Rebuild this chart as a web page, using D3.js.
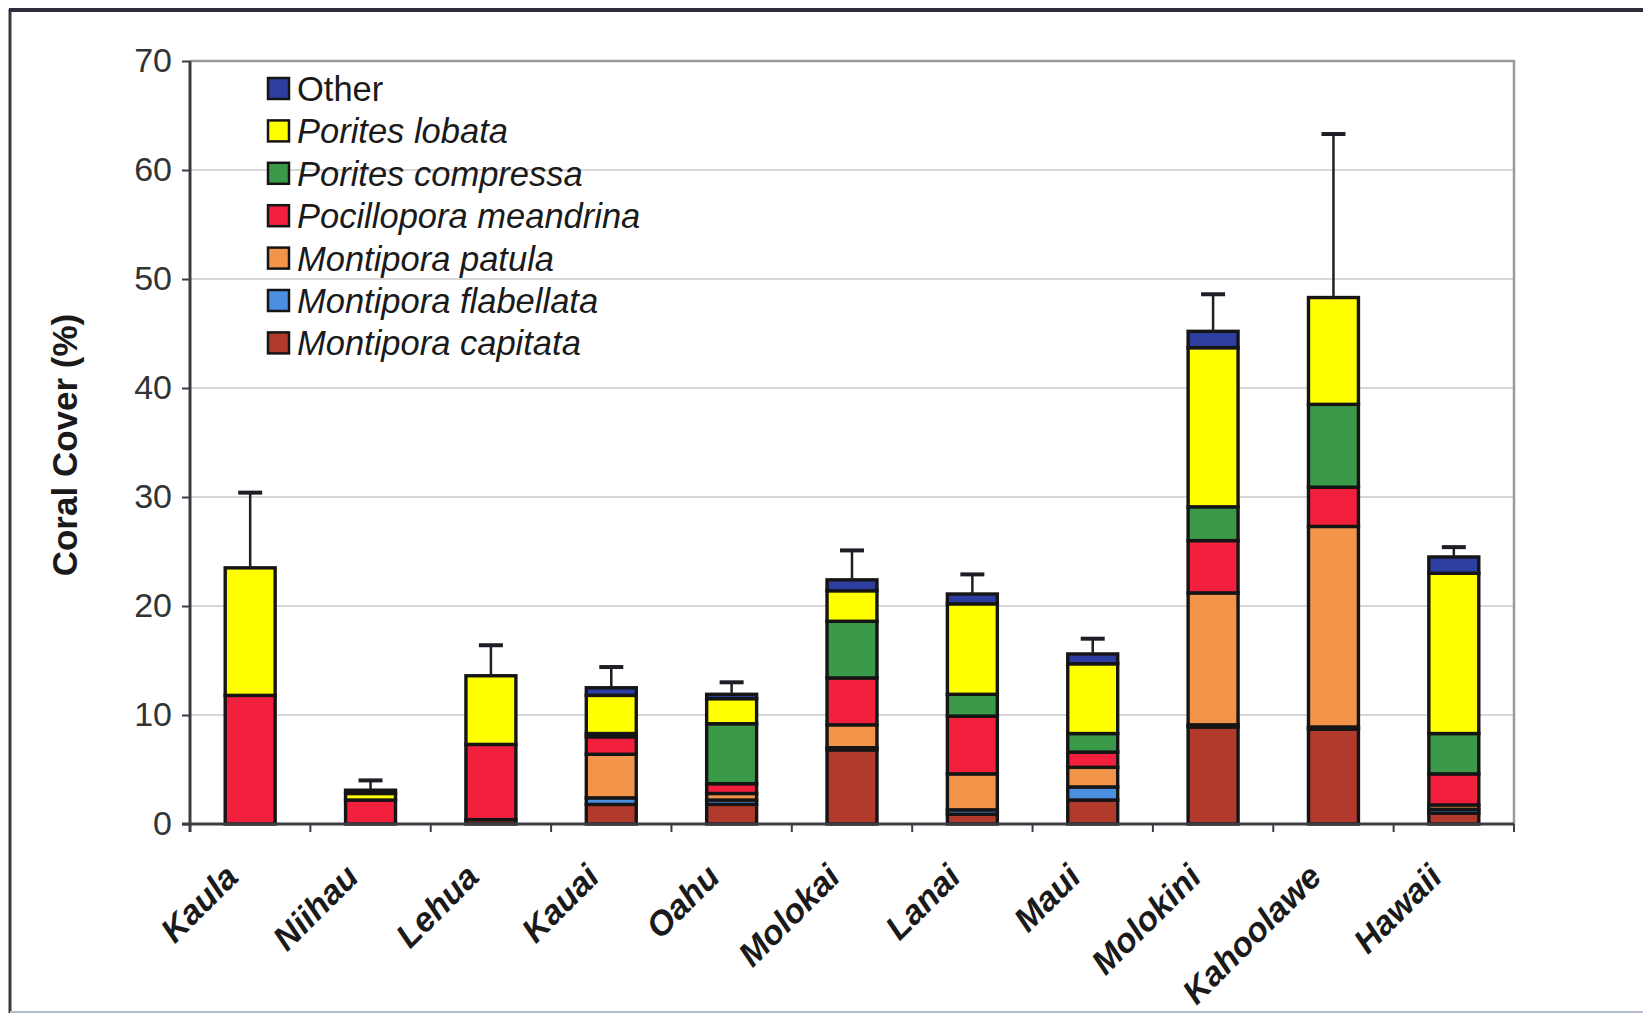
<!DOCTYPE html>
<html><head><meta charset="utf-8">
<script src="https://cdn.jsdelivr.net/npm/d3@7"></script>
<style>body{margin:0;background:#fff} svg{display:block}</style>
</head><body>
<svg id="chart" width="1643" height="1015"></svg>
<script>
// Mean coral cover (%) by species at each island, stacked bottom to top
const islands = ["Kaula","Niihau","Lehua","Kauai","Oahu","Molokai","Lanai","Maui","Molokini","Kahoolawe","Hawaii"];
const montiporaCapitata    = [0,    0,   0.4, 1.8, 1.8, 6.8, 0.9, 2.2, 8.9,  8.7,  1.0];
const montiporaFlabellata  = [0,    0,   0,   0.6, 0.4, 0.2, 0.4, 1.2, 0.2,  0.2,  0.35];
const montiporaPatula      = [0,    0,   0,   4.0, 0.6, 2.1, 3.3, 1.8, 12.1, 18.4, 0.4];
const pocilloporaMeandrina = [11.8, 2.2, 6.9, 1.6, 0.9, 4.3, 5.3, 1.4, 4.8,  3.6,  2.85];
const poritesCompressa     = [0,    0,   0,   0.3, 5.5, 5.2, 2.0, 1.7, 3.1,  7.6,  3.7];
const poritesLobata        = [11.7, 0.6, 6.3, 3.5, 2.3, 2.8, 8.3, 6.4, 14.6, 9.8,  14.7];
const otherCoral           = [0,    0.3, 0,   0.7, 0.4, 1.0, 0.9, 0.9, 1.5,  0,    1.5];
// upper error (SD of total cover)
const totalError           = [6.9,  0.9, 2.8, 1.9, 1.1, 2.7, 1.8, 1.4, 3.4,  15.0, 0.9];
const yTicks = [0, 10, 20, 30, 40, 50, 60, 70];

const series = [
  {name: "Montipora capitata",   values: montiporaCapitata,    color: "#b23a2c", italic: true},
  {name: "Montipora flabellata", values: montiporaFlabellata,  color: "#4a8fe0", italic: true},
  {name: "Montipora patula",     values: montiporaPatula,      color: "#f2954a", italic: true},
  {name: "Pocillopora meandrina",values: pocilloporaMeandrina, color: "#f2203c", italic: true},
  {name: "Porites compressa",    values: poritesCompressa,     color: "#3a9a4a", italic: true},
  {name: "Porites lobata",       values: poritesLobata,        color: "#ffff00", italic: true},
  {name: "Other",                values: otherCoral,           color: "#2e3ea0", italic: false}
];

const svg = d3.select("#chart");
const FONT = "'Liberation Sans', Arial, sans-serif";
const m = {left: 190, right: 1514, top: 61, bottom: 824};

// outer frame
svg.append("line").attr("x1", 10).attr("x2", 10).attr("y1", 9).attr("y2", 1013)
  .attr("stroke", "#3a3a3a").attr("stroke-width", 3);
svg.append("line").attr("x1", 9).attr("x2", 1643).attr("y1", 10).attr("y2", 10)
  .attr("stroke", "#2c2c3a").attr("stroke-width", 4);
svg.append("line").attr("x1", 10).attr("x2", 1643).attr("y1", 1012).attr("y2", 1012)
  .attr("stroke", "#b4bccb").attr("stroke-width", 2);

const x = d3.scaleBand().domain(islands).range([m.left, m.right]).paddingInner(0).paddingOuter(0);
const y = d3.scaleLinear().domain([0, 70]).range([m.bottom, m.top]);
const barW = x.bandwidth() * 0.415;

// gridlines
svg.append("g").selectAll("line").data(yTicks.filter(t => t > 0 && t < 70)).join("line")
  .attr("x1", m.left).attr("x2", m.right)
  .attr("y1", d => y(d)).attr("y2", d => y(d))
  .attr("stroke", "#cacaca").attr("stroke-width", 1.5);

// plot area border (top and right)
svg.append("path")
  .attr("d", `M${m.left},${m.top}H${m.right}V${m.bottom}`)
  .attr("fill", "none").attr("stroke", "#9a9a9a").attr("stroke-width", 2.5);

// stacked bars
const stack = d3.stack().keys(d3.range(series.length)).value((d, k) => series[k].values[d]);
const layers = stack(d3.range(islands.length));
layers.forEach((layer, k) => {
  svg.append("g").selectAll("rect")
    .data(layer.map((seg, i) => ({i, y0: seg[0], y1: seg[1]})).filter(s => s.y1 - s.y0 > 0))
    .join("rect")
    .attr("x", s => x(islands[s.i]) + (x.bandwidth() - barW) / 2)
    .attr("width", barW)
    .attr("y", s => y(s.y1))
    .attr("height", s => y(s.y0) - y(s.y1))
    .attr("fill", series[k].color)
    .attr("stroke", "#151515").attr("stroke-width", 3.4);
});

// error bars
const totals = islands.map((_, i) => d3.sum(series, s => s.values[i]));
const eb = svg.append("g").attr("stroke", "#1e1e26");
islands.forEach((isl, i) => {
  const cx = x(isl) + x.bandwidth() / 2;
  eb.append("line").attr("x1", cx).attr("x2", cx)
    .attr("y1", y(totals[i])).attr("y2", y(totals[i] + totalError[i])).attr("stroke-width", 2.5);
  eb.append("line").attr("x1", cx - 12).attr("x2", cx + 12)
    .attr("y1", y(totals[i] + totalError[i])).attr("y2", y(totals[i] + totalError[i])).attr("stroke-width", 4);
});

// y axis
const yAxis = svg.append("g").attr("transform", `translate(${m.left},0)`)
  .call(d3.axisLeft(y).tickValues(yTicks).tickSize(8).tickPadding(10).tickSizeOuter(0));
yAxis.select(".domain").remove();
yAxis.append("line").attr("x1", 0).attr("x2", 0).attr("y1", m.top).attr("y2", m.bottom + 8)
  .attr("stroke", "#3c3c44").attr("stroke-width", 3);
yAxis.selectAll(".tick line").attr("stroke", "#3c3c44").attr("stroke-width", 2);
yAxis.selectAll(".tick text").attr("font-family", FONT).attr("font-size", 34).attr("fill", "#333");

// x axis with ticks between categories
const xg = svg.append("g");
xg.append("line").attr("x1", m.left - 8).attr("x2", m.right).attr("y1", m.bottom).attr("y2", m.bottom)
  .attr("stroke", "#3c3c44").attr("stroke-width", 3);
xg.selectAll(".sep").data(islands).join("line")
  .attr("x1", d => x(d) + x.bandwidth()).attr("x2", d => x(d) + x.bandwidth())
  .attr("y1", m.bottom).attr("y2", m.bottom + 8)
  .attr("stroke", "#3c3c44").attr("stroke-width", 2);
xg.selectAll("text").data(islands).join("text")
  .attr("transform", d => `translate(${x(d) + x.bandwidth() / 2 - 10},${m.bottom + 55}) rotate(-45)`)
  .attr("text-anchor", "end")
  .attr("font-family", FONT).attr("font-size", 34).attr("font-weight", "bold").attr("font-style", "italic")
  .attr("fill", "#1a1a1a")
  .text(d => d);

// y axis title
svg.append("text")
  .attr("transform", `translate(77,445) rotate(-90)`)
  .attr("text-anchor", "middle")
  .attr("font-family", FONT).attr("font-size", 35).attr("font-weight", "bold").attr("fill", "#1a1a1a")
  .text("Coral Cover (%)");

// legend (top of stack first)
const legend = svg.append("g").attr("transform", "translate(268,89)");
series.slice().reverse().forEach((s, j) => {
  const row = legend.append("g").attr("transform", `translate(0,${j * 42.4})`);
  row.append("rect").attr("x", 0).attr("y", -11).attr("width", 21).attr("height", 21)
    .attr("fill", s.color).attr("stroke", "#151515").attr("stroke-width", 2.5);
  row.append("text").attr("x", 29).attr("y", 12)
    .attr("font-family", FONT).attr("font-size", 34.5)
    .attr("font-style", s.italic ? "italic" : "normal").attr("fill", "#1a1a1a")
    .text(s.name);
});
</script>
</body></html>
